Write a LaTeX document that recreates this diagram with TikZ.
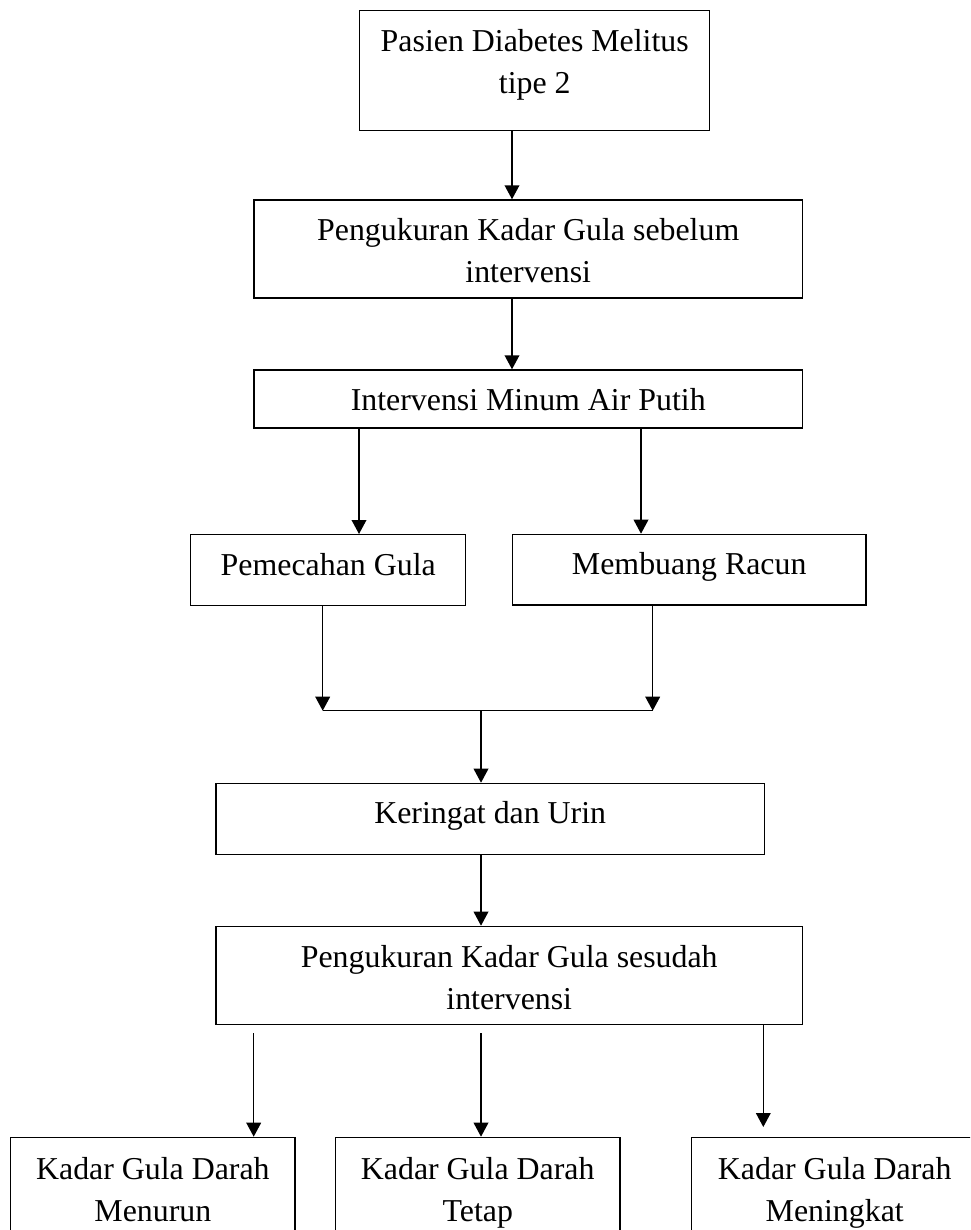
\documentclass[tikz,border=0pt]{standalone}
\usepackage{fontspec}
\setmainfont{Liberation Serif}
\usetikzlibrary{arrows.meta}
\newlength{\pxu}\setlength{\pxu}{0.75pt}
% box content: width, height, first-baseline offset, text
\newcommand{\bxt}[4]{\parbox[t][#2\pxu][t]{#1\pxu}{\centering\rule{0pt}{#3\pxu}#4\par}}
\begin{document}
\begin{tikzpicture}[x=0.75pt,y=-0.75pt,
  box/.style={draw, line width=1.1pt, inner sep=0pt, anchor=north west,
              font=\fontsize{23.9}{31.7}\selectfont},
  arr/.style={line width=1.1pt, -{Triangle[width=11pt,length=10.5pt]}},
  ln/.style={line width=1.1pt}]
\useasboundingbox (0,0) rectangle (970,1230);
\fill[white] (0,0) rectangle (970,1230);
\clip (0,0) rectangle (970,1230);

\node[box] (b1) at (359,10) {\bxt{350}{120}{40.5}{Pasien Diabetes Melitus\\tipe 2}};
\node[box] (b2) at (253.3,199.3) {\bxt{548.4}{98}{40.5}{Pengukuran Kadar Gula sebelum\\intervensi}};
\node[box] (b3) at (253.3,369.3) {\bxt{548.4}{58}{40.5}{Intervensi Minum Air Putih}};
\node[box] (b4) at (190,534) {\bxt{275}{70.7}{40.5}{Pemecahan Gula}};
\node[box] (b5) at (511.7,533.7) {\bxt{353.6}{70.6}{40.5}{Membuang Racun}};
\node[box] (b6) at (215.3,782.7) {\bxt{548.4}{71}{40.5}{Keringat dan Urin}};
\node[box] (b7) at (215.3,925.7) {\bxt{586.4}{98}{40.8}{Pengukuran Kadar Gula sesudah\\intervensi}};
\node[box] (b8) at (10,1136.7) {\bxt{284.3}{100}{42}{Kadar Gula Darah\\Menurun}};
\node[box] (b9) at (334.7,1136.7) {\bxt{284.6}{100}{42}{Kadar Gula Darah\\Tetap}};
\node[box] (b10) at (691,1136.7) {\bxt{286}{100}{42}{Kadar Gula Darah\\Meningkat}};

\coordinate (xa) at (512,0);
\coordinate (xb) at (359,0);
\coordinate (xc) at (641,0);
\coordinate (m1) at (322.7,710.7);
\coordinate (m2) at (652.7,710.7);
\coordinate (m3) at (481,710.7);
\coordinate (s8) at (253.7,1033.3);
\coordinate (s9) at (481,1033.3);
\coordinate (e10) at (763.3,1127);

\draw[arr] (b1.south -| xa) -- (b2.north -| xa);
\draw[arr] (b2.south -| xa) -- (b3.north -| xa);
\draw[arr] (b3.south -| xb) -- (b4.north -| xb);
\draw[arr] (b3.south -| xc) -- (b5.north -| xc);
\draw[arr] (b4.south -| m1) -- (m1);
\draw[arr] (b5.south -| m2) -- (m2);
\draw[ln] (m1) -- (m2);
\draw[arr] (m3) -- (b6.north -| m3);
\draw[arr] (b6.south -| m3) -- (b7.north -| m3);
\draw[arr] (s8) -- (b8.north -| s8);
\draw[arr] (s9) -- (b9.north -| s9);
\draw[arr] (b7.south -| e10) -- (e10);
\end{tikzpicture}
\end{document}
